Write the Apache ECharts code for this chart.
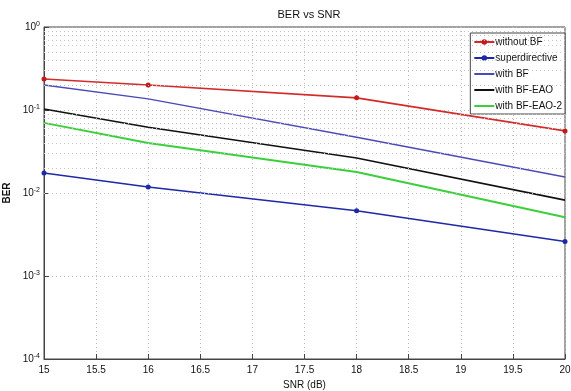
<!DOCTYPE html>
<html>
<head>
<meta charset="utf-8">
<script src="https://cdn.jsdelivr.net/npm/echarts@6/dist/echarts.min.js"></script>
<style>
  html, body { margin: 0; padding: 0; background: #fff; }
  #chart { width: 571px; height: 391px; }
</style>
</head>
<body>
<div id="chart"></div>
<script>
// SNR points (dB)
const snr = [15, 16, 18, 20];

// BER per curve
const withoutBF = [0.236, 0.20, 0.14, 0.056];
const superdirective = [0.0174, 0.0118, 0.0061, 0.0026];
const withBF = [0.20, 0.136, 0.047, 0.0156];
const withBFEAO = [0.103, 0.062, 0.0264, 0.0082];
const withBFEAO2 = [0.070, 0.040, 0.0179, 0.0051];

// minor log grid positions (2..9 in each decade)
const decades = [1e-4, 1e-3, 1e-2, 1e-1];
const minorSteps = [2, 3, 4, 5, 6, 7, 8, 9];

const pairs = (ys) => snr.map((x, i) => [x, ys[i]]);

const minorLines = [];
decades.forEach(d => minorSteps.forEach(m => minorLines.push({ yAxis: d * m })));

const chart = echarts.init(document.getElementById('chart'), null, { renderer: 'canvas' });

const font = 'Liberation Sans, Arial, sans-serif';

// curves without markers: hide the symbol in the legend icon
const noMark = { itemStyle: { opacity: 0 } };

const option = {
  backgroundColor: '#fff',
  animation: false,
  title: {
    text: 'BER vs SNR',
    left: 304,
    textAlign: 'center',
    top: 4,
    textStyle: { fontSize: 11, fontWeight: 'normal', color: '#111', fontFamily: font }
  },
  grid: {
    left: 44, right: 6, top: 27, bottom: 32,
    outerBoundsMode: 'none',
    containLabel: false,
    show: true, borderColor: '#444', borderWidth: 1
  },
  legend: {
    data: [
      { name: 'without BF' },
      { name: 'superdirective' },
      Object.assign({ name: 'with BF' }, noMark),
      Object.assign({ name: 'with BF-EAO' }, noMark),
      Object.assign({ name: 'with BF-EAO-2' }, noMark)
    ],
    orient: 'vertical',
    right: 6,
    top: 33,
    itemWidth: 20,
    itemHeight: 7,
    itemGap: 6,
    padding: [4, 3, 3, 3],
    backgroundColor: '#fff',
    borderColor: '#444',
    borderWidth: 1,
    textStyle: { fontSize: 10, color: '#111', fontFamily: font, padding: [0, 0, 0, -4] }
  },
  xAxis: {
    type: 'value',
    min: 15,
    max: 20,
    interval: 0.5,
    name: 'SNR (dB)',
    nameLocation: 'middle',
    nameGap: 19,
    nameTextStyle: { fontSize: 10, color: '#111', fontFamily: font },
    axisLine: { lineStyle: { color: '#444' } },
    axisTick: { inside: true, length: 5, lineStyle: { color: '#444' } },
    axisLabel: { fontSize: 10, color: '#111', fontFamily: font, margin: 6 },
    splitLine: { show: true, lineStyle: { color: '#bbb', type: [1, 3], width: 1 } }
  },
  yAxis: {
    type: 'log',
    logBase: 10,
    min: 1e-4,
    max: 1,
    name: 'BER',
    nameLocation: 'middle',
    nameGap: 29,
    nameTextStyle: { fontSize: 10, color: '#111', fontFamily: font, fontWeight: 'bold' },
    axisLine: { show: true, lineStyle: { color: '#444' } },
    axisTick: { inside: true, length: 5, lineStyle: { color: '#444' } },
    splitLine: { show: true, lineStyle: { color: '#bbb', type: [1, 3], width: 1 } },
    axisLabel: {
      margin: 4,
      formatter: function (v) {
        const e = Math.round(Math.log10(v));
        return '{b|10}{s|' + e + '}';
      },
      rich: {
        b: { fontSize: 10, color: '#111', fontFamily: font },
        s: { fontSize: 7, color: '#111', fontFamily: font, verticalAlign: 'top', padding: [0, 0, 6, 0] }
      }
    }
  },
  series: [
    {
      name: 'grid-minor',
      type: 'line',
      data: [],
      silent: true,
      markLine: {
        silent: true,
        symbol: 'none',
        label: { show: false },
        lineStyle: { color: '#c4c4c4', type: [1, 3], width: 1 },
        data: minorLines
      }
    },
    {
      name: 'without BF',
      type: 'line',
      data: pairs(withoutBF),
      symbol: 'circle',
      symbolSize: 5,
      color: '#d42a2a',
      lineStyle: { width: 1.6, color: '#d42a2a' },
      itemStyle: { color: '#c41a1a' }
    },
    {
      name: 'superdirective',
      type: 'line',
      data: pairs(superdirective),
      symbol: 'circle',
      symbolSize: 5,
      color: '#1f28a6',
      lineStyle: { width: 1.6, color: '#1f28a6' },
      itemStyle: { color: '#1f28a6' }
    },
    {
      name: 'with BF',
      type: 'line',
      data: pairs(withBF),
      symbol: 'none',
      color: '#4a4ab8',
      lineStyle: { width: 1.4, color: '#4a4ab8' }
    },
    {
      name: 'with BF-EAO',
      type: 'line',
      data: pairs(withBFEAO),
      symbol: 'none',
      color: '#111',
      lineStyle: { width: 1.6, color: '#111' }
    },
    {
      name: 'with BF-EAO-2',
      type: 'line',
      data: pairs(withBFEAO2),
      symbol: 'none',
      color: '#3ccf3c',
      lineStyle: { width: 2, color: '#3ccf3c' }
    }
  ]
};

chart.setOption(option);
</script>
</body>
</html>
